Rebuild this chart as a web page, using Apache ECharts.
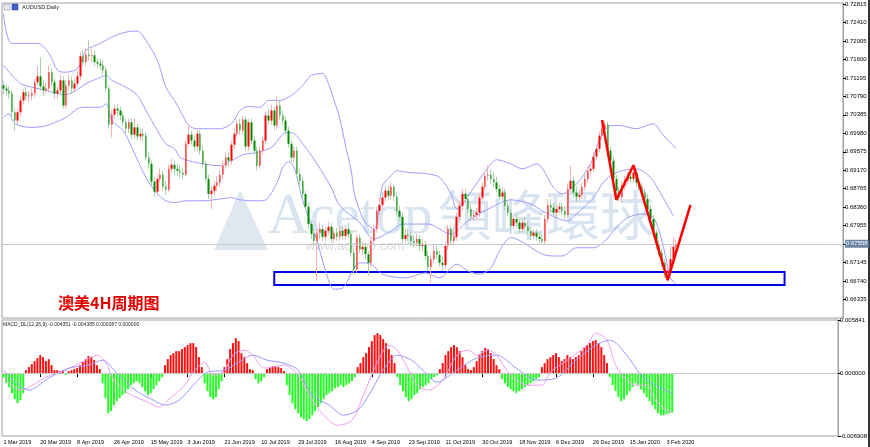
<!DOCTYPE html>
<html><head><meta charset="utf-8">
<script src="https://cdn.jsdelivr.net/npm/echarts@6/dist/echarts.min.js"></script>
<style>html,body{margin:0;padding:0;background:#fff}#c{width:870px;height:447px}</style>
</head><body><div id="c"></div>
<script>
const tickLabels = ['1 Mar 2019','20 Mar 2019','8 Apr 2019','26 Apr 2019','15 May 2019','3 Jun 2019','21 Jun 2019','10 Jul 2019','29 Jul 2019','16 Aug 2019','4 Sep 2019','23 Sep 2019','11 Oct 2019','30 Oct 2019','18 Nov 2019','6 Dec 2019','26 Dec 2019','15 Jan 2020','3 Feb 2020'];
const barsPerLabel = 13;
const slotCount = 295;
const categories = Array.from({length: slotCount}, (_, i) => String(i));

// [open, close, low, high]
const ohlc = [
[0.7103,0.7096,0.7083,0.7114],[0.7096,0.7092,0.7079,0.7105],[0.7092,0.7085,0.7074,0.7101],[0.7085,0.7044,0.7035,0.7092],[0.7044,0.7026,0.7004,0.7052],
[0.7026,0.7044,0.7017,0.7052],[0.7044,0.7070,0.7035,0.7079],[0.7070,0.7088,0.7061,0.7096],[0.7088,0.7079,0.7070,0.7099],[0.7079,0.7081,0.7066,0.7092],
[0.7081,0.7085,0.7070,0.7096],[0.7085,0.7110,0.7077,0.7118],[0.7110,0.7123,0.7103,0.7145],[0.7123,0.7101,0.7092,0.7165],[0.7101,0.7092,0.7079,0.7114],
[0.7092,0.7096,0.7083,0.7110],[0.7096,0.7132,0.7088,0.7145],[0.7132,0.7110,0.7101,0.7140],[0.7110,0.7085,0.7074,0.7118],[0.7085,0.7092,0.7074,0.7101],
[0.7092,0.7114,0.7083,0.7127],[0.7114,0.7059,0.7052,0.7123],[0.7059,0.7103,0.7052,0.7114],[0.7103,0.7114,0.7094,0.7127],[0.7114,0.7096,0.7085,0.7123],
[0.7096,0.7107,0.7088,0.7118],[0.7107,0.7123,0.7101,0.7136],[0.7123,0.7167,0.7114,0.7176],[0.7167,0.7154,0.7145,0.7180],[0.7154,0.7171,0.7145,0.7184],
[0.7171,0.7167,0.7158,0.7202],[0.7167,0.7169,0.7154,0.7184],[0.7169,0.7154,0.7145,0.7180],[0.7154,0.7151,0.7140,0.7162],[0.7151,0.7147,0.7136,0.7162],
[0.7147,0.7136,0.7127,0.7158],[0.7136,0.7096,0.7088,0.7145],[0.7096,0.7017,0.7008,0.7103],[0.7017,0.7039,0.6989,0.7048],[0.7039,0.7052,0.7030,0.7061],
[0.7052,0.7048,0.7035,0.7061],[0.7048,0.7037,0.7026,0.7057],[0.7037,0.7022,0.7013,0.7046],[0.7022,0.7008,0.6999,0.7030],[0.7008,0.7022,0.6999,0.7030],
[0.7022,0.6995,0.6986,0.7030],[0.6995,0.7011,0.6986,0.7030],[0.7011,0.6991,0.6982,0.7019],[0.6991,0.6997,0.6982,0.7008],[0.6997,0.6993,0.6982,0.7008],
[0.6993,0.6945,0.6938,0.7000],[0.6945,0.6931,0.6920,0.6956],[0.6931,0.6892,0.6883,0.6938],[0.6892,0.6870,0.6859,0.6903],[0.6870,0.6898,0.6861,0.6907],
[0.6898,0.6907,0.6890,0.6920],[0.6907,0.6881,0.6872,0.6916],[0.6881,0.6874,0.6863,0.6894],[0.6874,0.6920,0.6868,0.6929],[0.6920,0.6929,0.6912,0.6942],
[0.6929,0.6920,0.6907,0.6938],[0.6920,0.6916,0.6905,0.6931],[0.6916,0.6912,0.6901,0.6927],[0.6912,0.6907,0.6898,0.6923],[0.6907,0.6975,0.6903,0.6982],
[0.6975,0.6995,0.6969,0.7019],[0.6995,0.6982,0.6973,0.7004],[0.6982,0.6969,0.6960,0.6993],[0.6969,0.6997,0.6960,0.7008],[0.6997,0.6960,0.6951,0.7004],
[0.6960,0.6931,0.6923,0.6969],[0.6931,0.6898,0.6890,0.6938],[0.6898,0.6865,0.6854,0.6907],[0.6865,0.6872,0.6832,0.6881],[0.6872,0.6883,0.6863,0.6894],
[0.6883,0.6890,0.6872,0.6903],[0.6890,0.6907,0.6881,0.6916],[0.6907,0.6927,0.6898,0.6938],[0.6927,0.6945,0.6920,0.6956],[0.6945,0.6938,0.6925,0.6956],
[0.6938,0.6973,0.6929,0.6982],[0.6973,0.6997,0.6964,0.7008],[0.6997,0.7019,0.6989,0.7030],[0.7019,0.7004,0.6995,0.7030],[0.7004,0.7028,0.6995,0.7037],
[0.7028,0.6969,0.6960,0.7035],[0.6969,0.7022,0.6960,0.7030],[0.7022,0.6982,0.6973,0.7030],[0.6982,0.6960,0.6949,0.6991],[0.6960,0.6927,0.6916,0.6969],
[0.6927,0.6960,0.6920,0.6969],[0.6960,0.6982,0.6951,0.6991],[0.6982,0.7037,0.6973,0.7046],[0.7037,0.7026,0.7017,0.7052],[0.7026,0.7048,0.7017,0.7061],
[0.7048,0.7015,0.7004,0.7057],[0.7015,0.7059,0.7008,0.7081],[0.7059,0.7037,0.7028,0.7070],[0.7037,0.7026,0.7017,0.7048],[0.7026,0.7004,0.6995,0.7035],
[0.7004,0.6975,0.6967,0.7013],[0.6975,0.6945,0.6936,0.6982],[0.6945,0.6960,0.6934,0.6969],[0.6960,0.6909,0.6901,0.6969],[0.6909,0.6894,0.6883,0.6920],
[0.6894,0.6865,0.6854,0.6903],[0.6865,0.6837,0.6828,0.6872],[0.6837,0.6799,0.6788,0.6846],[0.6799,0.6777,0.6766,0.6806],[0.6777,0.6762,0.6751,0.6788],
[0.6762,0.6780,0.6674,0.6788],[0.6780,0.6788,0.6766,0.6802],[0.6788,0.6771,0.6762,0.6797],[0.6771,0.6784,0.6762,0.6793],[0.6784,0.6793,0.6775,0.6804],
[0.6793,0.6766,0.6758,0.6802],[0.6766,0.6780,0.6758,0.6788],[0.6780,0.6771,0.6762,0.6791],[0.6771,0.6784,0.6762,0.6793],[0.6784,0.6773,0.6764,0.6795],
[0.6773,0.6788,0.6766,0.6797],[0.6788,0.6777,0.6769,0.6802],[0.6777,0.6736,0.6727,0.6784],[0.6736,0.6700,0.6692,0.6744],[0.6700,0.6769,0.6692,0.6777],
[0.6769,0.6744,0.6736,0.6777],[0.6744,0.6749,0.6731,0.6762],[0.6749,0.6733,0.6722,0.6758],[0.6733,0.6714,0.6685,0.6740],[0.6714,0.6762,0.6705,0.6771],
[0.6762,0.6788,0.6753,0.6797],[0.6788,0.6828,0.6780,0.6837],[0.6828,0.6841,0.6819,0.6854],[0.6841,0.6857,0.6832,0.6868],[0.6857,0.6872,0.6848,0.6881],
[0.6872,0.6861,0.6852,0.6883],[0.6861,0.6881,0.6852,0.6890],[0.6881,0.6859,0.6850,0.6887],[0.6859,0.6828,0.6819,0.6868],[0.6828,0.6815,0.6806,0.6839],
[0.6815,0.6766,0.6758,0.6824],[0.6766,0.6775,0.6758,0.6788],[0.6775,0.6773,0.6762,0.6788],[0.6773,0.6762,0.6751,0.6784],[0.6762,0.6758,0.6747,0.6775],
[0.6758,0.6766,0.6749,0.6777],[0.6766,0.6751,0.6740,0.6775],[0.6751,0.6753,0.6740,0.6766],[0.6753,0.6729,0.6720,0.6762],[0.6729,0.6705,0.6696,0.6740],
[0.6705,0.6722,0.6670,0.6731],[0.6722,0.6740,0.6714,0.6753],[0.6740,0.6731,0.6722,0.6751],[0.6731,0.6714,0.6705,0.6740],[0.6714,0.6709,0.6696,0.6727],
[0.6709,0.6751,0.6700,0.6760],[0.6751,0.6788,0.6742,0.6797],[0.6788,0.6762,0.6753,0.6797],[0.6762,0.6771,0.6753,0.6784],[0.6771,0.6815,0.6762,0.6824],
[0.6815,0.6839,0.6806,0.6850],[0.6839,0.6865,0.6830,0.6876],[0.6865,0.6854,0.6846,0.6876],[0.6854,0.6832,0.6824,0.6863],[0.6832,0.6815,0.6806,0.6841],
[0.6815,0.6819,0.6806,0.6828],[0.6819,0.6824,0.6808,0.6835],[0.6824,0.6857,0.6815,0.6865],[0.6857,0.6881,0.6850,0.6890],[0.6881,0.6905,0.6872,0.6914],
[0.6905,0.6907,0.6894,0.6927],[0.6907,0.6898,0.6887,0.6918],[0.6898,0.6890,0.6881,0.6912],[0.6890,0.6876,0.6868,0.6903],[0.6876,0.6859,0.6850,0.6885],
[0.6859,0.6868,0.6850,0.6881],[0.6868,0.6839,0.6830,0.6876],[0.6839,0.6824,0.6815,0.6850],[0.6824,0.6795,0.6784,0.6832],[0.6795,0.6810,0.6788,0.6819],
[0.6810,0.6802,0.6791,0.6821],[0.6802,0.6788,0.6780,0.6810],[0.6788,0.6802,0.6780,0.6810],[0.6802,0.6793,0.6784,0.6815],[0.6793,0.6784,0.6775,0.6804],
[0.6784,0.6773,0.6764,0.6793],[0.6773,0.6780,0.6766,0.6788],[0.6780,0.6771,0.6762,0.6788],[0.6771,0.6766,0.6758,0.6782],[0.6766,0.6762,0.6753,0.6777],
[0.6762,0.6810,0.6755,0.6819],[0.6810,0.6841,0.6802,0.6854],[0.6841,0.6835,0.6824,0.6854],[0.6835,0.6824,0.6815,0.6846],[0.6824,0.6832,0.6815,0.6841],
[0.6832,0.6837,0.6824,0.6846],[0.6837,0.6828,0.6819,0.6846],[0.6828,0.6819,0.6810,0.6837],[0.6819,0.6876,0.6813,0.6887],[0.6876,0.6894,0.6868,0.6927],
[0.6894,0.6868,0.6857,0.6903],[0.6868,0.6859,0.6848,0.6881],[0.6859,0.6863,0.6850,0.6876],[0.6863,0.6881,0.6854,0.6890],[0.6881,0.6898,0.6872,0.6907],
[0.6898,0.6916,0.6890,0.6925],[0.6916,0.6920,0.6907,0.6934],[0.6920,0.6947,0.6912,0.6956],[0.6947,0.6964,0.6938,0.6973],[0.6964,0.6993,0.6956,0.7002],
[0.6993,0.7008,0.6984,0.7017],[0.7008,0.7017,0.6999,0.7026],[0.7017,0.6960,0.6951,0.7024],[0.6960,0.6938,0.6929,0.6969],[0.6938,0.6898,0.6890,0.6947],
[0.6898,0.6872,0.6859,0.6907],[0.6872,0.6857,0.6848,0.6881],[0.6857,0.6883,0.6848,0.6892],[0.6883,0.6894,0.6874,0.6905],[0.6894,0.6903,0.6885,0.6912],
[0.6903,0.6898,0.6890,0.6916],[0.6898,0.6912,0.6890,0.6927],[0.6912,0.6890,0.6881,0.6920],[0.6890,0.6881,0.6872,0.6898],[0.6881,0.6868,0.6859,0.6890],
[0.6868,0.6854,0.6846,0.6876],[0.6854,0.6832,0.6824,0.6863],[0.6832,0.6810,0.6802,0.6841],[0.6810,0.6780,0.6771,0.6819],[0.6780,0.6753,0.6744,0.6788],
[0.6753,0.6736,0.6727,0.6762],[0.6736,0.6714,0.6705,0.6744],[0.6714,0.6692,0.6681,0.6722],[0.6692,0.6696,0.6672,0.6705],[0.6696,0.6722,0.6687,0.6751],
[0.6722,0.6749,0.6714,0.6771],[0.6749,0.6756,0.6740,0.6765]
];

// Bollinger bands: [bar index, price]
const bbUpper = [[0,0.7261],[3,0.7195],[12,0.7195],[16,0.7173],[19,0.7136],[22,0.7132],[26,0.7140],[29,0.7180],[34,0.7195],[38,0.7209],[43,0.7220],[47,0.7222],[50,0.7202],[54,0.7158],[57,0.7099],[60,0.7070],[62,0.7048],[65,0.7015],[68,0.7008],[76,0.7008],[80,0.7019],[83,0.7048],[86,0.7057],[90,0.7055],[93,0.7070],[97,0.7070],[101,0.7081],[105,0.7103],[108,0.7125],[112,0.7129],[114,0.7107],[116,0.7070],[118,0.7030],[120,0.6971],[122,0.6916],[123,0.6868],[125,0.6828],[127,0.6802],[130,0.6788],[133,0.6883],[136,0.6905],[138,0.6916],[142,0.6912],[149,0.6909],[153,0.6901],[157,0.6865],[159,0.6832],[165,0.6879],[170,0.6923],[173,0.6940],[178,0.6931],[182,0.6920],[187,0.6931],[193,0.6879],[196,0.6865],[201,0.6887],[206,0.6931],[209,0.6982],[213,0.7015],[216,0.7015],[222,0.7008],[228,0.7019],[231,0.6997],[236,0.6964]];
const bbMiddle = [[0,0.7147],[6,0.7107],[10,0.7099],[15,0.7092],[19,0.7085],[22,0.7083],[26,0.7094],[29,0.7107],[33,0.7118],[36,0.7125],[38,0.7114],[43,0.7099],[47,0.7081],[50,0.7048],[54,0.7004],[57,0.6975],[60,0.6964],[62,0.6945],[65,0.6938],[70,0.6931],[76,0.6927],[80,0.6938],[84,0.6951],[89,0.6956],[94,0.6967],[97,0.6989],[99,0.7000],[102,0.6997],[105,0.6975],[110,0.6931],[115,0.6879],[118,0.6839],[125,0.6802],[130,0.6766],[136,0.6784],[140,0.6799],[149,0.6799],[157,0.6777],[163,0.6806],[171,0.6835],[178,0.6852],[185,0.6843],[189,0.6828],[195,0.6810],[198,0.6806],[201,0.6821],[207,0.6857],[210,0.6887],[213,0.6905],[217,0.6916],[222,0.6920],[227,0.6901],[230,0.6872],[235,0.6817]];
const bbLower = [[0,0.7033],[2,0.7041],[4,0.7019],[10,0.7011],[14,0.7013],[17,0.7019],[22,0.7033],[26,0.7052],[29,0.7055],[34,0.7055],[36,0.7063],[38,0.7026],[42,0.7004],[45,0.6967],[50,0.6901],[54,0.6865],[57,0.6850],[60,0.6846],[64,0.6850],[70,0.6850],[76,0.6854],[80,0.6857],[83,0.6852],[89,0.6850],[92,0.6852],[96,0.6890],[98,0.6923],[100,0.6936],[102,0.6923],[105,0.6850],[110,0.6762],[113,0.6696],[116,0.6656],[119,0.6659],[125,0.6714],[129,0.6711],[133,0.6689],[141,0.6681],[148,0.6692],[153,0.6681],[159,0.6711],[163,0.6696],[167,0.6689],[171,0.6703],[174,0.6740],[178,0.6769],[189,0.6733],[193,0.6729],[196,0.6729],[201,0.6747],[207,0.6747],[211,0.6762],[215,0.6791],[219,0.6813],[224,0.6821],[228,0.6813],[231,0.6762],[234,0.6681],[236,0.6667]];

// MACD histogram per bar
const macdHist = [-0.00055,-0.0011,-0.00154,-0.0022,-0.00286,-0.0033,-0.00297,-0.0022,0.00033,0.00066,
0.00099,0.00132,0.00165,0.00198,0.00176,0.00132,0.00154,0.00088,0.00033,0.00033,
0.00022,0.00033,-0.00022,0.00022,0.00033,0.00044,0.00055,0.00088,0.00121,0.00154,
0.00187,0.00176,0.00143,0.00088,0.00044,-0.0011,-0.00275,-0.0044,-0.00418,-0.00352,
-0.00308,-0.00275,-0.00242,-0.0022,-0.00176,-0.00132,-0.0011,-0.00088,-0.0011,-0.00154,
-0.00198,-0.00242,-0.0022,-0.00176,-0.00132,-0.00088,-0.00044,0.00088,0.00154,0.00198,
0.0022,0.00242,0.00242,0.00264,0.00286,0.00308,0.0033,0.0033,0.00286,0.00176,
0.00066,-0.0011,-0.00198,-0.00264,-0.00286,-0.00264,-0.00176,-0.00088,0.00066,0.00154,
0.00264,0.0033,0.00385,0.00352,0.0022,0.00176,0.0011,0.00044,0.00033,-0.00066,
-0.0011,-0.00088,-0.00044,0.00044,0.00066,0.00077,0.00077,0.00066,0.00055,0.00022,
-0.00132,-0.00242,-0.0033,-0.00396,-0.0044,-0.00484,-0.00506,-0.00528,-0.00506,-0.00462,
-0.00418,-0.00374,-0.0033,-0.00286,-0.00242,-0.0022,-0.00198,-0.00165,-0.00154,-0.00132,
-0.00154,-0.00132,-0.0011,-0.00088,-0.00044,0.00066,0.0011,0.00176,0.0022,0.00286,
0.00352,0.00418,0.0044,0.00418,0.00374,0.0033,0.00264,0.00198,0.0011,-0.00044,
-0.00132,-0.00198,-0.00264,-0.00308,-0.00286,-0.00242,-0.0022,-0.00176,-0.00154,-0.00132,
-0.0011,-0.00066,-0.00044,-0.00022,0.00044,0.0011,0.00198,0.00242,0.00286,0.00308,
0.00286,0.00242,0.00176,0.00088,0.00044,0.00033,0.00066,0.00132,0.00198,0.00242,
0.00275,0.00264,0.0022,0.00154,0.00088,0.00044,-0.00066,-0.0011,-0.00154,-0.00176,
-0.00198,-0.0022,-0.00198,-0.00176,-0.00154,-0.00132,-0.0011,-0.00088,-0.00066,-0.00044,
0.00066,0.0011,0.00154,0.00176,0.00198,0.0022,0.00176,0.00132,0.00154,0.00198,
0.00176,0.00154,0.00176,0.00198,0.00242,0.00286,0.00308,0.0033,0.00352,0.00363,
0.0033,0.00286,0.00198,0.0011,-0.00044,-0.00132,-0.00198,-0.00264,-0.00308,-0.00286,
-0.00242,-0.00198,-0.00154,-0.0011,-0.00132,-0.00176,-0.0022,-0.00264,-0.00308,-0.00352,
-0.00396,-0.0044,-0.00462,-0.00462,-0.00451,-0.0044,-0.00435];

const macdPink = [[0,-0.00044],[6,-0.00187],[15,-0.00044],[22,0.00033],[29,0.00143],[33,0.00198],[36,0.00121],[39,-0.00077],[44,-0.0022],[51,-0.00319],[55,-0.00374],[58,-0.00297],[64,-0.00132],[67,0.00011],[71,0.00121],[74,-0.00022],[78,0.00033],[81,0.00198],[85,0.00253],[88,0.00198],[92,0.00055],[99,0.00088],[104,-0.00022],[109,-0.00297],[113,-0.00462],[118,-0.00572],[123,-0.00517],[127,-0.00242],[132,0.00121],[136,0.00308],[139,0.00253],[143,0.00033],[146,-0.00132],[150,-0.00187],[155,-0.00077],[160,0.00198],[164,0.00253],[167,0.00198],[171,0.00253],[174,0.00198],[179,-0.00022],[185,-0.00132],[190,-0.00132],[193,0.00011],[199,0.00143],[206,0.00308],[209,0.0044],[213,0.00363],[216,0.00088],[220,-0.00077],[223,-0.00132],[227,-0.00132],[230,-0.00297],[234,-0.00407],[236,-0.00429]];
const macdBlue = [[0,0.00033],[9,-0.00187],[16,-0.00055],[23,0.00055],[30,0.00088],[35,0.00143],[40,0.0],[47,-0.00198],[53,-0.00297],[57,-0.00352],[62,-0.00297],[67,-0.00132],[72,0.00011],[78,0.00033],[83,0.00121],[88,0.00198],[93,0.00143],[99,0.0011],[104,0.00033],[109,-0.00242],[115,-0.00352],[120,-0.00462],[125,-0.00407],[129,-0.00242],[134,0.00033],[139,0.00198],[144,0.00143],[148,0.00033],[153,-0.00099],[160,0.00033],[167,0.00165],[174,0.00198],[181,0.00055],[188,-0.00077],[195,-0.00055],[202,0.00143],[209,0.00308],[214,0.00363],[220,0.00198],[225,-0.00022],[230,-0.00132],[236,-0.0022]];

const zigzag = [[210,0.7027],[215,0.6852],[221,0.6928],[233,0.6676],[241,0.6841]];
const supportBox = {fromBar: 95, toBar: 274, top: 0.66938, bottom: 0.66653};
const lastPrice = 0.67558;
const macdLegend = 'MACD_DL(12,26,9) -0.004351 -0.004385 0.000067 0.000000';

const bodies = ohlc.map(d => [d[0], d[1], Math.min(d[0], d[1]), Math.max(d[0], d[1])]);
const isTick = (i) => i % barsPerLabel === 0 && i / barsPerLabel < tickLabels.length;
const F = '"Liberation Sans", Arial, sans-serif';
const bandStyle = {color: '#9c9cff', width: 1};
const wm = 'rgba(178,202,224,0.5)';

const chart = echarts.init(document.getElementById('c'), null, {renderer: 'canvas'});
chart.setOption({
  animation: false,
  backgroundColor: '#ffffff',
  grid: [
    {left: 2, right: 27, top: 3, height: 315, show: true, borderColor: '#a0a0a0', borderWidth: 1, backgroundColor: 'transparent'},
    {left: 2, right: 27, top: 320, height: 116, show: true, borderColor: '#a0a0a0', borderWidth: 1, backgroundColor: 'transparent'}
  ],
  xAxis: [
    {type: 'category', gridIndex: 0, data: categories, boundaryGap: true,
     axisLine: {show: false}, axisTick: {show: false}, axisLabel: {show: false}, splitLine: {show: false}},
    {type: 'category', gridIndex: 1, data: categories, boundaryGap: true,
     axisLine: {show: false},
     axisTick: {show: true, alignWithLabel: true, interval: (i) => isTick(i), length: 4, lineStyle: {color: '#000'}},
     axisLabel: {interval: (i) => isTick(i), formatter: (v, i) => tickLabels[Math.round(i / barsPerLabel)] || '',
       align: 'left', fontSize: 5.5, color: '#000', margin: 3, fontFamily: F},
     splitLine: {show: false}}
  ],
  yAxis: [
    {type: 'value', gridIndex: 0, position: 'right', min: 0.6593, max: 0.72837, interval: 0.00405,
     axisLine: {show: true, lineStyle: {color: '#a0a0a0'}},
     axisTick: {show: true, length: 3, lineStyle: {color: '#000'}},
     axisLabel: {fontSize: 6, color: '#000', margin: 2, fontFamily: F, showMaxLabel: false, showMinLabel: false,
       formatter: (v) => v.toFixed(5)},
     splitLine: {show: false}},
    {type: 'value', gridIndex: 1, position: 'right', min: -0.006908, max: 0.005841, interval: 0.006908,
     axisLine: {show: true, lineStyle: {color: '#a0a0a0'}},
     axisTick: {show: true, length: 3, lineStyle: {color: '#000'}},
     axisLabel: {fontSize: 6, color: '#000', margin: 2, fontFamily: F, formatter: (v) => v.toFixed(6)},
     splitLine: {show: false}}
  ],
  series: [
    {type: 'line', xAxisIndex: 0, yAxisIndex: 0, data: bbUpper, symbol: 'none', smooth: 0.3, lineStyle: bandStyle, z: 1, silent: true,
     markLine: {silent: true, symbol: 'none', animation: false, precision: 6,
       lineStyle: {color: '#c8c8c8', width: 1, type: 'solid'},
       label: {show: true, position: 'end', distance: 2, formatter: lastPrice.toFixed(5), backgroundColor: '#6d86a6', color: '#fff', fontSize: 6, padding: [1, 1], fontFamily: F},
       data: [{yAxis: lastPrice}]}},
    {type: 'line', xAxisIndex: 0, yAxisIndex: 0, data: bbMiddle, symbol: 'none', smooth: 0.3, lineStyle: bandStyle, z: 1, silent: true},
    {type: 'line', xAxisIndex: 0, yAxisIndex: 0, data: bbLower, symbol: 'none', smooth: 0.3, lineStyle: bandStyle, z: 1, silent: true},
    {type: 'candlestick', xAxisIndex: 0, yAxisIndex: 0, data: ohlc, barWidth: 1, z: 2, silent: true,
     itemStyle: {color: '#ffb0b0', color0: '#a6d6a6', borderColor: '#ffb0b0', borderColor0: '#a6d6a6', borderWidth: 1}},
    {type: 'candlestick', xAxisIndex: 0, yAxisIndex: 0, data: bodies, barWidth: 2, z: 3, silent: true,
     itemStyle: {color: '#ff0000', color0: '#008a00', borderColor: '#ff0000', borderColor0: '#008a00', borderWidth: 0},
     markArea: {silent: true,
       itemStyle: {color: 'rgba(0,0,0,0)', borderColor: '#0000e6', borderWidth: 2},
       data: [[{xAxis: supportBox.fromBar, yAxis: supportBox.top}, {xAxis: supportBox.toBar, yAxis: supportBox.bottom}]]}},
    {type: 'line', xAxisIndex: 0, yAxisIndex: 0, data: zigzag, symbol: 'none', lineStyle: {color: '#ff0000', width: 2.5}, z: 10, silent: true},
    {type: 'bar', xAxisIndex: 1, yAxisIndex: 1, data: macdHist, barWidth: 2, silent: true, z: 2,
     itemStyle: {color: (p) => p.value >= 0 ? '#ff1010' : '#22ff22'},
     markLine: {silent: true, symbol: 'none', precision: 6, label: {show: false}, lineStyle: {color: '#c8c8c8', width: 1, type: 'solid'}, data: [{yAxis: 0}]}},
    {type: 'line', xAxisIndex: 1, yAxisIndex: 1, data: macdPink, symbol: 'none', smooth: 0.3, lineStyle: {color: '#f59cf5', width: 1}, z: 4, silent: true},
    {type: 'line', xAxisIndex: 1, yAxisIndex: 1, data: macdBlue, symbol: 'none', smooth: 0.3, lineStyle: {color: '#9898ff', width: 1}, z: 4, silent: true}
  ],
  graphic: [
    {type: 'polygon', z: -5, silent: true, shape: {points: [[214, 250], [240, 190], [268, 250]]}, style: {fill: 'rgba(185,205,225,0.45)'}},
    {type: 'text', z: -5, left: 268, top: 190, silent: true, style: {text: 'Acetop', font: '57px "Liberation Serif", serif', fill: wm}},
    {type: 'text', z: -5, left: 438, top: 188, silent: true, style: {text: '領峰環球', font: '54px "Noto Sans CJK TC"', fill: wm}},
    {type: 'text', z: -5, left: 306, top: 240, silent: true, style: {text: 'www.acetop.com', font: '13px ' + F, fill: 'rgba(160,160,160,0.4)'}},
    {type: 'rect', silent: true, shape: {x: 4, y: 4, width: 6, height: 6}, style: {fill: '#e8e8f0', stroke: '#8080a0', lineWidth: 0.5}},
    {type: 'rect', silent: true, shape: {x: 12, y: 4, width: 6, height: 6}, style: {fill: '#4060d0', stroke: '#203080', lineWidth: 0.5}},
    {type: 'text', left: 22, top: 4, silent: true, style: {text: 'AUDUSD,Daily', font: '5.5px ' + F, fill: '#222'}},
    {type: 'text', left: 3, top: 322, silent: true, style: {text: macdLegend, font: '5px ' + F, fill: '#222'}},
    {type: 'text', left: 58, top: 295, silent: true, style: {text: '澳美4H周期图', font: 'bold 16px "Noto Sans CJK SC"', fill: '#e00000', textShadowColor: 'rgba(0,0,120,0.6)', textShadowOffsetX: 1, textShadowOffsetY: 1, textShadowBlur: 0}},
    {type: 'rect', silent: true, shape: {x: 868, y: 0, width: 2, height: 447}, style: {fill: '#333'}}
  ]
});
</script></body></html>
